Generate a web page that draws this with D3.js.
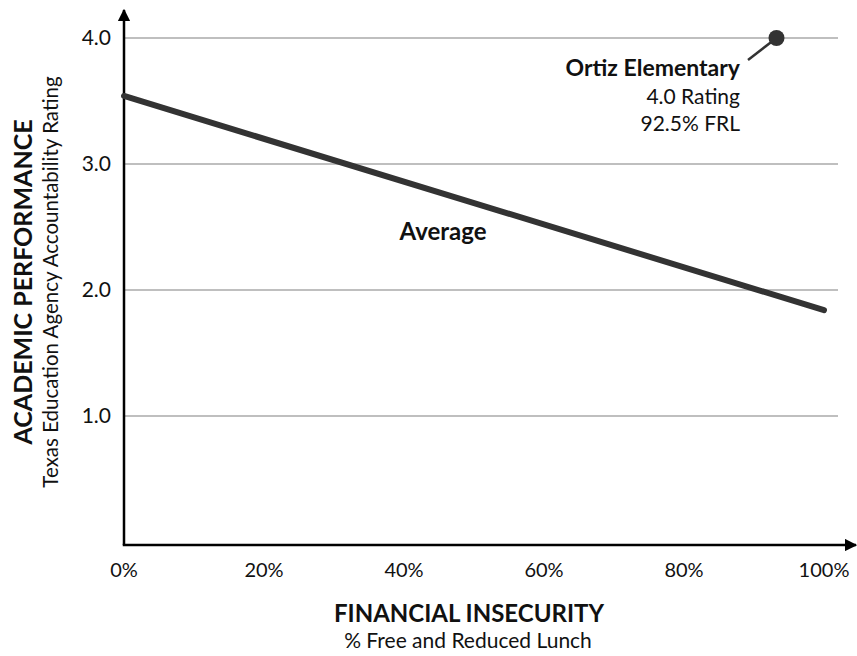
<!DOCTYPE html>
<html>
<head>
<meta charset="utf-8">
<script src="https://cdn.jsdelivr.net/npm/d3@7"></script>
<style>
  body { margin: 0; background: #fff; }
  text { font-family: Lato, "Open Sans", sans-serif; fill: #111; }
</style>
</head>
<body>
<svg id="chart" width="857" height="656"></svg>
<script>
// data
const xTicks = [0, 20, 40, 60, 80, 100];
const yTicks = [1, 2, 3, 4];
const averageLine = [ { frl: 0, rating: 3.54 }, { frl: 100, rating: 1.84 } ];
const schools = [ { name: "Ortiz Elementary", frl: 92.5, rating: 4.0 } ];

const svg = d3.select("#chart");

const x = d3.scaleLinear().domain([0, 100]).range([124, 824]);
const y = d3.scaleLinear().domain([0, 4]).range([542, 38]);
const x0 = 124, yAxisY = 545;

// gridlines
svg.selectAll(".grid")
  .data(yTicks)
  .enter()
  .append("line")
  .attr("x1", x0)
  .attr("x2", 838)
  .attr("y1", d => y(d))
  .attr("y2", d => y(d))
  .attr("stroke", "#aaa")
  .attr("stroke-width", 1.3);

// y tick labels
svg.selectAll(".ylab")
  .data(yTicks)
  .enter()
  .append("text")
  .attr("x", 111)
  .attr("y", d => y(d) + 7)
  .attr("text-anchor", "end")
  .style("font-size", "21px")
  .text(d => d3.format(".1f")(d));

// x tick labels
svg.selectAll(".xlab")
  .data(xTicks)
  .enter()
  .append("text")
  .attr("x", d => x(d))
  .attr("y", 577)
  .attr("text-anchor", "middle")
  .style("font-size", "20px")
  .text(d => d + "%");

// axes with arrows
const defs = svg.append("defs");
defs.append("marker")
  .attr("id", "arrow")
  .attr("viewBox", "0 0 10 10")
  .attr("refX", 9)
  .attr("refY", 5)
  .attr("markerWidth", 5)
  .attr("markerHeight", 5)
  .attr("markerUnits", "strokeWidth")
  .attr("orient", "auto")
  .append("path")
  .attr("d", "M0,0 L10,5 L0,10 Z")
  .attr("fill", "#000");

svg.append("line")
  .attr("x1", x0).attr("y1", yAxisY)
  .attr("x2", x0).attr("y2", 10)
  .attr("stroke", "#000").attr("stroke-width", 2.5)
  .attr("marker-end", "url(#arrow)");

svg.append("line")
  .attr("x1", x0 - 1.25).attr("y1", yAxisY)
  .attr("x2", 856).attr("y2", yAxisY)
  .attr("stroke", "#000").attr("stroke-width", 2.5)
  .attr("marker-end", "url(#arrow)");

// average line
svg.append("path")
  .datum(averageLine)
  .attr("d", d3.line().x(d => x(d.frl)).y(d => y(d.rating)))
  .attr("fill", "none")
  .attr("stroke", "#333")
  .attr("stroke-width", 6)
  .attr("stroke-linecap", "round");

svg.append("text")
  .attr("x", 443)
  .attr("y", 240)
  .attr("text-anchor", "middle")
  .style("font-size", "24px")
  .style("font-weight", "bold")
  .text("Average");

// school point + label
schools.forEach(s => {
  const px = x(s.frl) + 5, py = y(s.rating);
  svg.append("line")
    .attr("x1", px).attr("y1", py)
    .attr("x2", 748).attr("y2", 60)
    .attr("stroke", "#333").attr("stroke-width", 2.5);
  svg.append("circle")
    .attr("cx", px).attr("cy", py).attr("r", 8)
    .attr("fill", "#333");
  svg.append("text")
    .attr("x", 740).attr("y", 76)
    .attr("text-anchor", "end")
    .style("font-size", "23px").style("font-weight", "bold")
    .text(s.name);
  svg.append("text")
    .attr("x", 740).attr("y", 104)
    .attr("text-anchor", "end")
    .style("font-size", "21px")
    .text(d3.format(".1f")(s.rating) + " Rating");
  svg.append("text")
    .attr("x", 740).attr("y", 131)
    .attr("text-anchor", "end")
    .style("font-size", "21px")
    .text(s.frl + "% FRL");
});

// axis titles
svg.append("text")
  .attr("transform", "translate(32,282) rotate(-90)")
  .attr("text-anchor", "middle")
  .style("font-size", "25px").style("font-weight", "bold")
  .text("ACADEMIC PERFORMANCE");
svg.append("text")
  .attr("transform", "translate(58,282) rotate(-90)")
  .attr("text-anchor", "middle")
  .style("font-size", "20.5px")
  .text("Texas Education Agency Accountability Rating");

svg.append("text")
  .attr("x", 469).attr("y", 622)
  .attr("text-anchor", "middle")
  .style("font-size", "24px").style("font-weight", "bold")
  .text("FINANCIAL INSECURITY");
svg.append("text")
  .attr("x", 468).attr("y", 648)
  .attr("text-anchor", "middle")
  .style("font-size", "21px")
  .text("% Free and Reduced Lunch");
</script>
</body>
</html>
